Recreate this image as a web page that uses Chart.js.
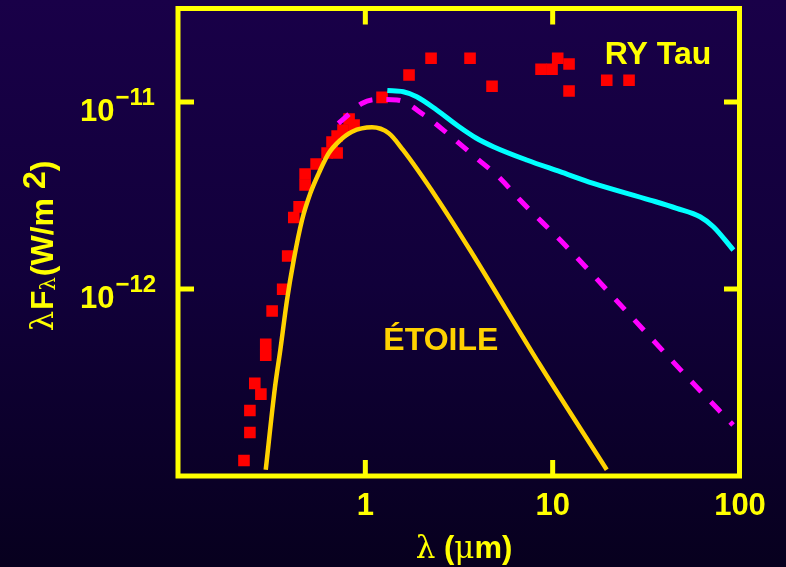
<!DOCTYPE html>
<html>
<head>
<meta charset="utf-8">
<script src="https://cdn.jsdelivr.net/npm/chart.js@4.4.1/dist/chart.umd.min.js"></script>
<style>
  html, body { margin: 0; padding: 0; background: #0c0030; }
  canvas { display: block; }
</style>
</head>
<body>
<canvas id="sed" width="786" height="567"></canvas>
<script>
// Observed photometry of RY Tau (wavelength in µm, λFλ in W/m²)
const obsWavelength = [0.225, 0.242, 0.242, 0.277, 0.257, 0.294, 0.294, 0.318, 0.362, 0.385,
  0.415, 0.443, 0.477, 0.477, 0.546, 0.625, 0.707, 0.664, 0.707, 0.760, 0.871, 0.819,
  1.228, 1.711, 2.243, 3.622, 4.746, 8.668, 9.922, 10.64, 12.23, 12.23, 19.44, 25.57];
const obsFlux = [1.21e-13, 1.71e-13, 2.24e-13, 2.74e-13, 3.13e-13, 4.42e-13, 5.06e-13, 7.63e-13,
  9.96e-13, 1.50e-12, 2.41e-12, 2.75e-12, 3.60e-12, 4.12e-12, 4.66e-12, 5.34e-12, 5.34e-12,
  6.11e-12, 6.58e-12, 7.09e-12, 7.53e-12, 8.11e-12, 1.059e-11, 1.394e-11, 1.713e-11, 1.713e-11,
  1.213e-11, 1.496e-11, 1.496e-11, 1.713e-11, 1.596e-11, 1.145e-11, 1.306e-11, 1.306e-11];

// Stellar photosphere
const starWavelength = [0.294, 0.3296, 0.3517, 0.3819, 0.4147, 0.4594, 0.5086, 0.564, 0.6375,
  0.7355, 0.8491, 1.086, 1.334, 1.589, 2.405, 3.622, 8.56, 19.44];
const starFlux = [1.08e-13, 3.0e-13, 4.72e-13, 8.73e-13, 1.429e-12, 2.339e-12, 3.25e-12,
  4.155e-12, 5.317e-12, 6.26e-12, 6.94e-12, 7.32e-12, 6.80e-12, 5.54e-12, 3.07e-12, 1.616e-12,
  3.92e-13, 1.08e-13];

// Star + disk model (dashed)
const modelWavelength = [0.7176, 0.8084, 0.9567, 1.150, 1.476, 2.058, 2.763, 3.933, 5.236,
  6.697, 11.64, 25.25, 54.12, 91.8];
const modelFlux = [7.69e-12, 8.52e-12, 9.82e-12, 1.031e-11, 1.025e-11, 8.52e-12, 6.745e-12,
  5.0e-12, 3.909e-12, 2.991e-12, 1.718e-12, 7.44e-13, 3.262e-13, 1.874e-13];

// Infrared excess model
const excessWavelength = [1.310, 1.595, 1.881, 2.405, 3.125, 3.899, 4.824, 7.271, 10.95,
  16.49, 33.10, 45.95, 61.19, 72.07, 92.15];
const excessFlux = [1.152e-11, 1.135e-11, 1.067e-11, 9.06e-12, 7.44e-12, 6.42e-12, 5.77e-12,
  4.896e-12, 4.24e-12, 3.674e-12, 2.991e-12, 2.701e-12, 2.435e-12, 2.153e-12, 1.616e-12];

// Axis ticks
const xTickValues = [1, 10, 100];
const xTickLabels = ['1', '10', '100'];
const yTickValues = [1e-11, 1e-12];
const yTickExponents = ['\u221211', '\u221212'];

const YELLOW = '#ffff00';
const GOLD = '#ffd200';
const SANS = '"Liberation Sans", Arial, Helvetica, sans-serif';
const GREEK = '"DejaVu Serif", "Liberation Serif", serif';

const toXY = (xs, ys) => xs.map((x, i) => ({ x: x, y: ys[i] }));

const backgroundPlugin = {
  id: 'background',
  beforeDraw(chart) {
    const { ctx, width, height } = chart;
    const g = ctx.createLinearGradient(0, 0, 0, height);
    g.addColorStop(0, '#190048');
    g.addColorStop(0.5, '#11003a');
    g.addColorStop(1, '#07001e');
    ctx.save();
    ctx.fillStyle = g;
    ctx.fillRect(0, 0, width, height);
    ctx.restore();
  }
};

function drawRun(ctx, parts, x, y) {
  // draw a sequence of text pieces left to right, each with its own font and shift
  let cx = x;
  for (const p of parts) {
    ctx.font = p.font;
    ctx.fillText(p.text, cx, y + (p.dy || 0));
    cx += ctx.measureText(p.text).width + (p.gap || 0);
  }
  return cx - x;
}
function measureRun(ctx, parts) {
  let w = 0;
  for (const p of parts) {
    ctx.font = p.font;
    w += ctx.measureText(p.text).width + (p.gap || 0);
  }
  return w;
}

const framePlugin = {
  id: 'frame',
  afterDatasetsDraw(chart) {
    const { ctx, chartArea: a, scales } = chart;
    const xs = scales.x, ys = scales.y;
    ctx.save();
    ctx.strokeStyle = YELLOW;
    ctx.lineWidth = 5;
    ctx.lineCap = 'butt';
    ctx.strokeRect(a.left, a.top, a.right - a.left - 0.5, a.bottom - a.top);

    const tickLen = 16;
    ctx.beginPath();
    xTickValues.forEach(v => {
      const px = xs.getPixelForValue(v);
      if (px > a.left + 3 && px < a.right - 3) {
        ctx.moveTo(px, a.top); ctx.lineTo(px, a.top + tickLen);
        ctx.moveTo(px, a.bottom); ctx.lineTo(px, a.bottom - tickLen);
      }
    });
    yTickValues.forEach(v => {
      const py = ys.getPixelForValue(v);
      ctx.moveTo(a.left, py); ctx.lineTo(a.left + tickLen, py);
      ctx.moveTo(a.right, py); ctx.lineTo(a.right - tickLen, py);
    });
    ctx.stroke();

    // tick labels
    ctx.fillStyle = YELLOW;
    ctx.textBaseline = 'alphabetic';
    ctx.textAlign = 'center';
    ctx.font = 'bold 31px ' + SANS;
    xTickValues.forEach((v, i) => {
      ctx.fillText(xTickLabels[i], xs.getPixelForValue(v), 515);
    });
    ctx.textAlign = 'left';
    yTickValues.forEach((v, i) => {
      const py = ys.getPixelForValue(v);
      drawRun(ctx, [
        { text: '10', font: 'bold 31px ' + SANS, gap: 1 },
        { text: yTickExponents[i], font: 'bold 24px ' + SANS, dy: -16 }
      ], 80, py + 19);
    });

    // x axis title
    const xParts = [
      { text: '\u03bb', font: '31px ' + GREEK },
      { text: ' (', font: 'bold 31px ' + SANS },
      { text: '\u03bc', font: '31px ' + GREEK },
      { text: 'm)', font: 'bold 31px ' + SANS }
    ];
    const xw = measureRun(ctx, xParts);
    drawRun(ctx, xParts, 464 - xw / 2, 558);

    // y axis title (rotated)
    const yParts = [
      { text: '\u03bb', font: '32px ' + GREEK, gap: 1 },
      { text: 'F', font: 'bold 32px ' + SANS },
      { text: '\u03bb', font: '21px ' + GREEK, dy: 2, gap: 1 },
      { text: '(W/m ', font: 'bold 32px ' + SANS },
      { text: '2', font: 'bold 32px ' + SANS, dy: -8 },
      { text: ')', font: 'bold 32px ' + SANS }
    ];
    const yw = measureRun(ctx, yParts);
    ctx.save();
    ctx.translate(53, 246);
    ctx.rotate(-Math.PI / 2);
    drawRun(ctx, yParts, -yw / 2, 0);
    ctx.restore();

    // curve annotations, anchored in data coordinates
    ctx.textAlign = 'center';
    ctx.font = 'bold 32px ' + SANS;
    ctx.fillStyle = YELLOW;
    ctx.fillText('RY Tau', xs.getPixelForValue(36.5), ys.getPixelForValue(1.59e-11));
    ctx.fillStyle = GOLD;
    ctx.fillText('\u00c9TOILE', xs.getPixelForValue(2.53), ys.getPixelForValue(4.72e-13));
    ctx.restore();
  }
};

new Chart(document.getElementById('sed'), {
  type: 'scatter',
  data: {
    datasets: [
      {
        label: 'Modèle étoile + disque',
        data: toXY(modelWavelength, modelFlux),
        showLine: true,
        borderColor: '#ff00ff',
        borderWidth: 5,
        borderDash: [14, 14],
        borderCapStyle: 'butt',
        cubicInterpolationMode: 'monotone',
        pointRadius: 0,
        order: 2
      },
      {
        label: 'Excès infrarouge',
        data: toXY(excessWavelength, excessFlux),
        showLine: true,
        borderColor: '#00ffff',
        borderWidth: 5,
        cubicInterpolationMode: 'monotone',
        pointRadius: 0,
        order: 1
      },
      {
        label: 'Étoile',
        data: toXY(starWavelength, starFlux),
        showLine: true,
        borderColor: GOLD,
        borderWidth: 4.5,
        cubicInterpolationMode: 'monotone',
        pointRadius: 0,
        order: 0
      },
      {
        label: 'RY Tau',
        data: toXY(obsWavelength, obsFlux),
        showLine: false,
        pointStyle: 'rect',
        pointRadius: 8.2,
        pointBorderWidth: 0,
        backgroundColor: '#ff0000',
        borderColor: '#ff0000',
        order: 3
      }
    ]
  },
  options: {
    responsive: false,
    animation: false,
    devicePixelRatio: 1,
    layout: { padding: { left: 178, right: 46, top: 8.5, bottom: 91 } },
    plugins: { legend: { display: false }, tooltip: { enabled: false } },
    scales: {
      x: { type: 'logarithmic', min: 0.1, max: 100, display: false },
      y: { type: 'logarithmic', min: 1e-13, max: Math.pow(10, -10.5), display: false }
    }
  },
  plugins: [backgroundPlugin, framePlugin]
});
</script>
</body>
</html>
